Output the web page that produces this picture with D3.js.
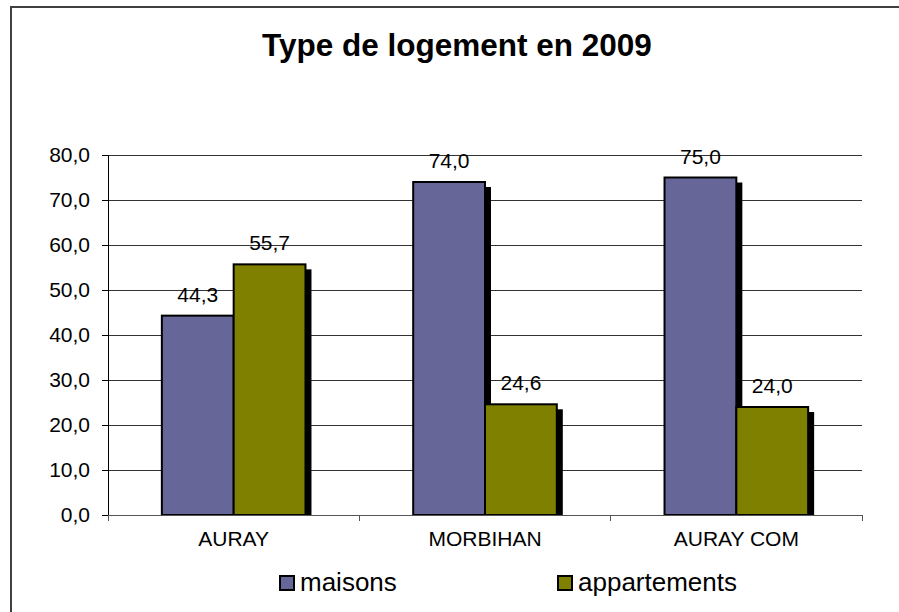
<!DOCTYPE html>
<html>
<head>
<meta charset="utf-8">
<script src="https://cdn.jsdelivr.net/npm/d3@7"></script>
<style>
  html, body { margin: 0; padding: 0; background: #fff; }
  svg { display: block; font-family: "Liberation Sans", Arial, sans-serif; }
</style>
</head>
<body>
<svg id="chart" width="899" height="612"></svg>
<script>
// Type de logement en 2009 (%)
const categories = ["AURAY", "MORBIHAN", "AURAY COM"];
const seriesNames = ["maisons", "appartements"];
const maisons = [44.3, 74.0, 75.0];
const appartements = [55.7, 24.6, 24.0];
const yTicks = [0, 10, 20, 30, 40, 50, 60, 70, 80];
const colors = ["#666699", "#808000"];

const seriesValues = [maisons, appartements];
const fmt = v => d3.format(".1f")(v).replace(".", ",");

const svg = d3.select("#chart");
const W = 899, H = 612;

// outer frame
svg.append("rect")
  .attr("x", 11).attr("y", 7)
  .attr("width", W + 20).attr("height", H + 20)
  .attr("fill", "#fff")
  .attr("stroke", "#404040").attr("stroke-width", 2);

// title
svg.append("text")
  .attr("x", 457).attr("y", 56)
  .attr("text-anchor", "middle")
  .attr("font-size", 31.5).attr("font-weight", "bold")
  .text("Type de logement en 2009");

const plot = { left: 108, right: 862, top: 155, bottom: 515 };

const x0 = d3.scaleBand().domain(categories)
  .range([plot.left, plot.right]).paddingInner(0).paddingOuter(0);
// two bars per group, gap of 150% of a bar width split on both sides
const x1 = d3.scaleBand().domain(seriesNames)
  .range([0, x0.bandwidth()]).paddingInner(0).paddingOuter(0.75);
const y = d3.scaleLinear().domain([0, 80]).range([plot.bottom, plot.top]);

// gridlines
svg.append("g").selectAll("line").data(yTicks.filter(t => t > 0)).join("line")
  .attr("x1", plot.left).attr("x2", plot.right)
  .attr("y1", d => y(d)).attr("y2", d => y(d))
  .attr("stroke", "#333").attr("stroke-width", 1)
  .attr("shape-rendering", "crispEdges");

// y axis
const yAxis = svg.append("g")
  .attr("transform", `translate(${plot.left},0)`)
  .call(d3.axisLeft(y).tickValues(yTicks).tickFormat(fmt).tickSize(6).tickPadding(12));
yAxis.attr("font-family", null).attr("font-size", null);
yAxis.select(".domain").attr("stroke", "#000").attr("shape-rendering", "crispEdges");
yAxis.selectAll(".tick line").attr("stroke", "#000").attr("shape-rendering", "crispEdges");
yAxis.selectAll("text").attr("font-size", 21).attr("fill", "#000");

// bars with drop shadow
const shadowDx = 6, shadowDy = 5;
seriesNames.forEach((s, si) => {
  const g = svg.append("g");
  const vals = seriesValues[si];
  categories.forEach((c, ci) => {
    const bx = x0(c) + x1(s);
    const bw = x1.bandwidth();
    const v = vals[ci];
    g.append("rect")
      .attr("x", bx + shadowDx).attr("y", y(v) + shadowDy)
      .attr("width", bw).attr("height", Math.max(0, y(0) - y(v) - shadowDy))
      .attr("fill", "#000");
    g.append("rect")
      .attr("x", bx).attr("y", y(v))
      .attr("width", bw).attr("height", y(0) - y(v))
      .attr("fill", colors[si])
      .attr("stroke", "#000").attr("stroke-width", 2);
    g.append("text")
      .attr("x", bx + bw / 2).attr("y", y(v) - 14)
      .attr("text-anchor", "middle")
      .attr("font-size", 21)
      .text(fmt(v));
  });
});

// x axis
const xAxis = svg.append("g")
  .attr("transform", `translate(0,${plot.bottom})`);
xAxis.append("line")
  .attr("x1", plot.left).attr("x2", plot.right)
  .attr("y1", 0).attr("y2", 0)
  .attr("stroke", "#555").attr("stroke-width", 1)
  .attr("shape-rendering", "crispEdges");
const bounds = [plot.left].concat(categories.map(c => x0(c) + x0.bandwidth()));
xAxis.selectAll("line.tk").data(bounds).join("line").attr("class", "tk")
  .attr("x1", d => d).attr("x2", d => d)
  .attr("y1", 0).attr("y2", 6)
  .attr("stroke", "#555").attr("shape-rendering", "crispEdges");
xAxis.selectAll("text").data(categories).join("text")
  .attr("x", d => x0(d) + x0.bandwidth() / 2)
  .attr("y", 31)
  .attr("text-anchor", "middle")
  .attr("font-size", 21)
  .text(d => d);

// legend
const legendItems = [
  { name: seriesNames[0], color: colors[0], x: 280 },
  { name: seriesNames[1], color: colors[1], x: 558 }
];
const lg = svg.append("g");
legendItems.forEach(it => {
  lg.append("rect")
    .attr("x", it.x).attr("y", 576)
    .attr("width", 14).attr("height", 14)
    .attr("fill", it.color)
    .attr("stroke", "#000").attr("stroke-width", 2);
  lg.append("text")
    .attr("x", it.x + 20).attr("y", 591)
    .attr("font-size", 26)
    .text(it.name);
});
</script>
</body>
</html>
